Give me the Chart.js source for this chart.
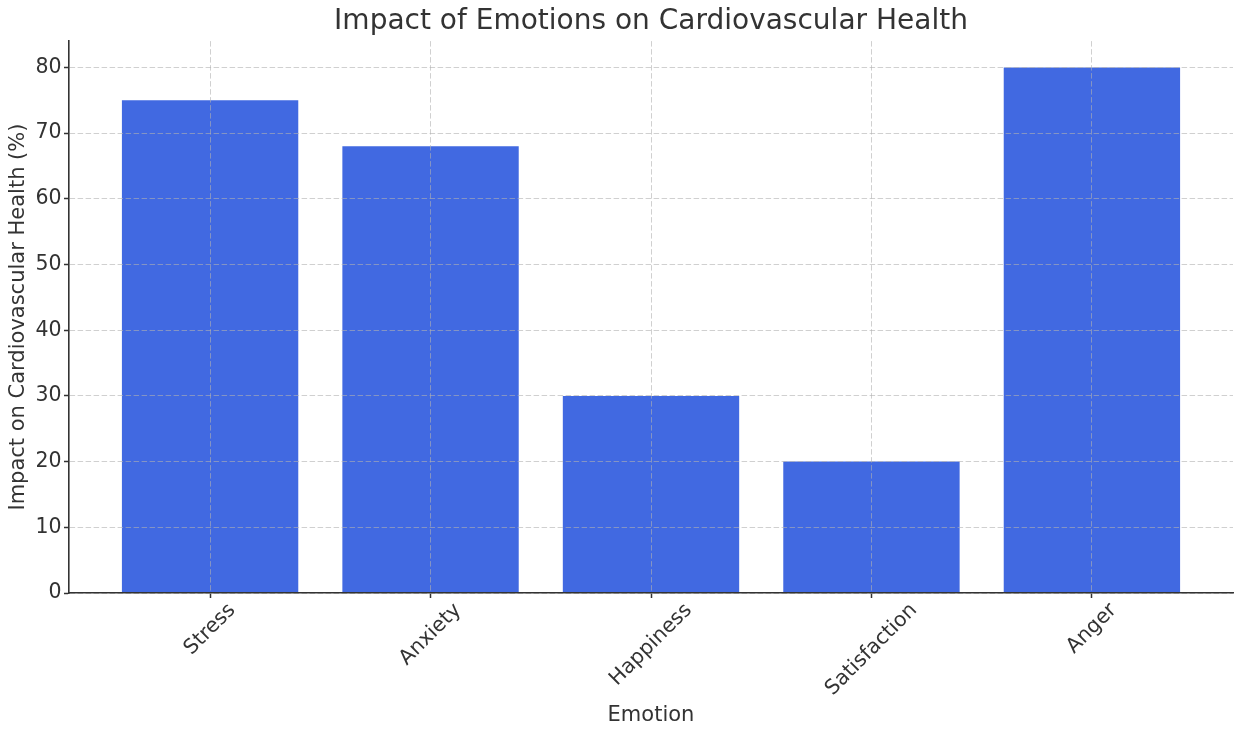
<!DOCTYPE html>
<html>
<head>
<meta charset="utf-8">
<script src="https://cdn.jsdelivr.net/npm/chart.js@4/dist/chart.umd.min.js"></script>
<style>
  html, body { margin: 0; padding: 0; background: #ffffff; }
  #wrap { width: 1235px; height: 734px; position: relative; }
</style>
</head>
<body>
<div id="wrap"><canvas id="c"></canvas></div>
<script>
const categories = ["Stress", "Anxiety", "Happiness", "Satisfaction", "Anger"];
const impactValues = [75, 68, 30, 20, 80];
const yTickValues = [0, 10, 20, 30, 40, 50, 60, 70, 80];

const chartTitle = "Impact of Emotions on Cardiovascular Health";
const xAxisTitle = "Emotion";
const yAxisTitle = "Impact on Cardiovascular Health (%)";

const FONT = "'DejaVu Sans', 'Liberation Sans', sans-serif";
const TEXT = "#333333";
const SPINE = "#333333";
const GRID = "rgba(176,176,176,0.6)";

const rotatedXLabels = {
  id: "rotatedXLabels",
  afterDraw(chart) {
    const xs = chart.scales.x;
    const ctx = chart.ctx;
    const area = chart.chartArea;
    ctx.save();
    ctx.font = "20.5px " + FONT;
    ctx.fillStyle = TEXT;
    ctx.textAlign = "center";
    ctx.textBaseline = "middle";
    const top = area.bottom + 7;
    const h = 20;
    categories.forEach((label, i) => {
      const x = xs.getPixelForValue(i);
      const w = ctx.measureText(label).width;
      const cy = top + (w + h) * Math.SQRT1_2 / 2;
      ctx.save();
      ctx.translate(x, cy);
      ctx.rotate(-Math.PI / 4);
      ctx.fillText(label, 0, 0);
      ctx.restore();
    });
    ctx.restore();
  }
};

new Chart(document.getElementById("c"), {
  type: "bar",
  data: {
    datasets: [{
      data: impactValues.map((v, i) => ({ x: i, y: v })),
      backgroundColor: "#4169E1",
      borderWidth: 0,
      categoryPercentage: 1.0,
      barPercentage: 0.8
    }]
  },
  options: {
    responsive: true,
    maintainAspectRatio: false,
    animation: false,
    layout: { padding: { left: 0, right: 2, top: 0, bottom: 0 } },
    plugins: {
      legend: { display: false },
      tooltip: { enabled: false },
      title: {
        display: true,
        text: chartTitle,
        fullSize: false,
        color: TEXT,
        font: { family: FONT, size: 28, weight: "normal", lineHeight: 1.2 },
        padding: { top: 4.5, bottom: 3 }
      }
    },
    scales: {
      x: {
        type: "linear",
        min: -0.64,
        max: 4.64,
        offset: false,
        afterBuildTicks(scale) { scale.ticks = categories.map((_, i) => ({ value: i })); },
        afterFit(scale) { scale.height = 141; },
        ticks: {
          display: false,
          callback: (v) => categories[v] ?? ""
        },
        grid: {
          z: 1,
          offset: false,
          color: GRID,
          lineWidth: 1,
          drawTicks: true,
          tickLength: 5,
          tickColor: SPINE,
          tickWidth: 1.5,
          tickBorderDash: []
        },
        border: { display: true, z: 2, color: SPINE, width: 1.6, dash: [5.5, 2.5] },
        title: {
          display: true,
          text: xAxisTitle,
          color: TEXT,
          font: { family: FONT, size: 21, lineHeight: 1.2 },
          padding: { top: 0, bottom: 5.5 }
        }
      },
      y: {
        type: "linear",
        min: 0,
        max: 84,
        afterBuildTicks(scale) { scale.ticks = yTickValues.map(v => ({ value: v })); },
        afterFit(scale) { scale.width = 69; },
        ticks: {
          color: TEXT,
          font: { family: FONT, size: 20.5 },
          padding: 2.5
        },
        grid: {
          z: 1,
          color: GRID,
          lineWidth: 1,
          drawTicks: true,
          tickLength: 5,
          tickColor: SPINE,
          tickWidth: 1.5,
          tickBorderDash: []
        },
        border: { display: true, z: 2, color: SPINE, width: 1.6, dash: [5.5, 2.5] },
        title: {
          display: true,
          text: yAxisTitle,
          color: TEXT,
          font: { family: FONT, size: 21, lineHeight: 1.2 },
          padding: { top: 5.5, bottom: 0 }
        }
      }
    }
  },
  plugins: [rotatedXLabels]
});
</script>
</body>
</html>
